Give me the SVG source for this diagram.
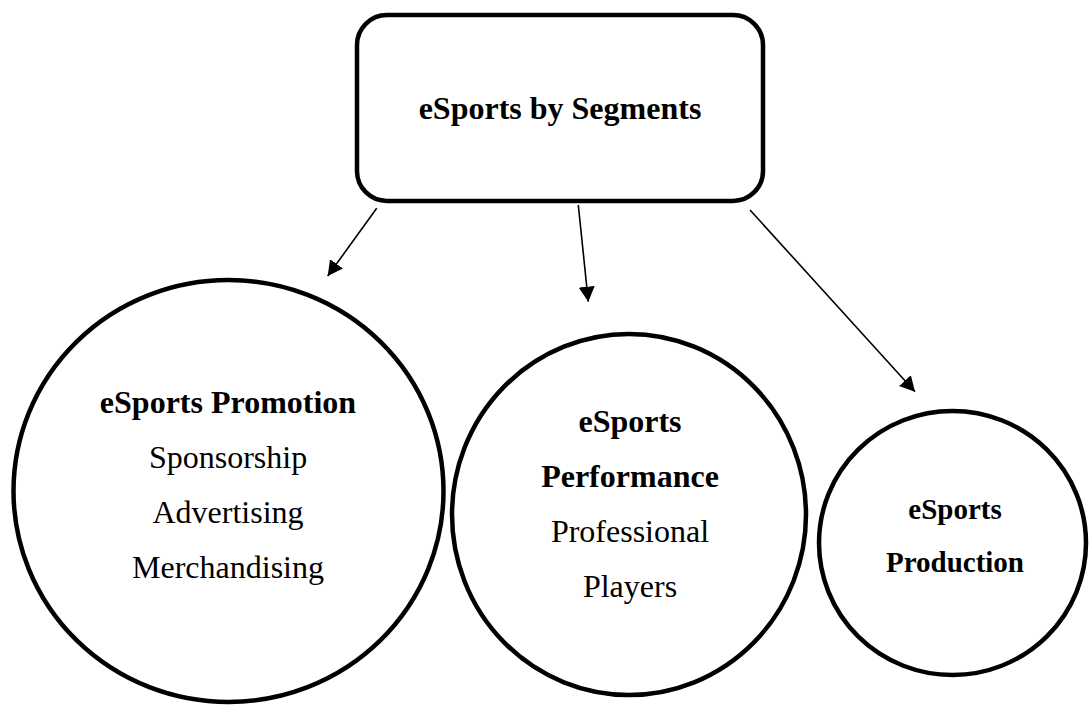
<svg xmlns="http://www.w3.org/2000/svg" width="1089" height="705" viewBox="0 0 1089 705">
  <style>
    .shape { fill: #ffffff; stroke: #000000; stroke-width: 4.5; }
    .txt { font-family: "Liberation Serif", "Times New Roman", serif; fill: #000000; text-anchor: middle; }
    .b { font-weight: bold; }
    .t32 { font-size: 32px; }
    .t29 { font-size: 29px; }
    .link { stroke: #000000; stroke-width: 1.6; fill: none; marker-end: url(#head); }
  </style>
  <defs>
    <marker id="head" viewBox="0 0 15 16" refX="15" refY="8" markerWidth="15" markerHeight="16" markerUnits="userSpaceOnUse" orient="auto">
      <path d="M0,0 L15,8 L0,16 z" fill="#000000"/>
    </marker>
  </defs>
  <rect width="1089" height="705" fill="#ffffff"/>

  <g id="connectors">
    <line class="link" x1="376.7" y1="208.3" x2="327.7" y2="276"/>
    <line class="link" x1="578.3" y1="205" x2="588.3" y2="301.7"/>
    <line class="link" x1="750" y1="210" x2="915" y2="391.7"/>
  </g>

  <g id="segments">
    <rect class="shape" x="357" y="15" width="406" height="186" rx="30" ry="30"/>
    <text class="txt b t32" x="560" y="119">eSports by Segments</text>
  </g>

  <g id="promotion">
    <ellipse class="shape" cx="228.5" cy="491" rx="215" ry="211"/>
    <text class="txt b t32" x="228" y="413">eSports Promotion</text>
    <text class="txt t32" x="228" y="468">Sponsorship</text>
    <text class="txt t32" x="228" y="523">Advertising</text>
    <text class="txt t32" x="228" y="578">Merchandising</text>
  </g>

  <g id="performance">
    <ellipse class="shape" cx="629" cy="514.5" rx="177" ry="180.5"/>
    <text class="txt b t32" x="630" y="432">eSports</text>
    <text class="txt b t32" x="630" y="487">Performance</text>
    <text class="txt t32" x="630" y="542">Professional</text>
    <text class="txt t32" x="630" y="597">Players</text>
  </g>

  <g id="production">
    <ellipse class="shape" cx="952.5" cy="543" rx="133.5" ry="132"/>
    <text class="txt b t29" x="955" y="519">eSports</text>
    <text class="txt b t29" x="955" y="572">Production</text>
  </g>
</svg>
